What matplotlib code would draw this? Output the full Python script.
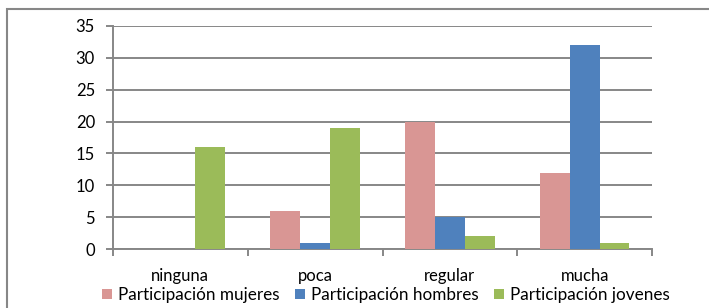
import numpy as np
import matplotlib.pyplot as plt
from matplotlib.patches import Rectangle

categories = ["ninguna", "poca", "regular", "mucha"]
mujeres = [0, 6, 20, 12]
hombres = [0, 1, 5, 32]
jovenes = [16, 19, 2, 1]
series_names = ["Participación mujeres", "Participación hombres", "Participación jovenes"]
colors = ["#D99694", "#4F81BD", "#9BBB59"]

plt.rcParams['font.family'] = ['Lato', 'DejaVu Sans']
grid_color = "#878787"

fig = plt.figure(figsize=(7.09, 3.08), dpi=100)
ax = fig.add_axes([113 / 709, 1 - 249 / 308, 539 / 709, 223 / 308])

x = np.arange(len(categories))
w = 0.222
for i, (vals, name, c) in enumerate(zip([mujeres, hombres, jovenes], series_names, colors)):
    ax.bar(x + (i - 1) * w, vals, width=w, color=c, label=name, zorder=3)

ax.set_xlim(-0.5, 3.5)
ax.set_ylim(0, 35)
ax.set_yticks(range(0, 36, 5))
ax.yaxis.grid(True, color=grid_color, linewidth=1.4, zorder=0)
ax.set_xticks(np.arange(-0.5, 4, 1))
ax.set_xticklabels([])
ax.set_xticks(x, minor=True)
ax.set_xticklabels(categories, minor=True)
ax.tick_params(axis='x', which='minor', length=0, pad=14, labelsize=12)
ax.tick_params(axis='x', which='major', length=5, color=grid_color, width=1.4)
ax.tick_params(axis='y', length=5, color=grid_color, width=1.4, labelsize=12, pad=8)

for s in ["top", "right"]:
    ax.spines[s].set_visible(False)
for s in ["left", "bottom"]:
    ax.spines[s].set_color(grid_color)
    ax.spines[s].set_linewidth(1.4)

fig.legend(loc="center", bbox_to_anchor=(386 / 709, 1 - 295 / 308), ncol=3,
           frameon=False, fontsize=12.3, handlelength=0.6, handleheight=0.6,
           handletextpad=0.35, columnspacing=0.9, borderpad=0)

fig.patches.append(Rectangle((7 / 709, -0.05), 1.0, 1 - 9 / 308 + 0.05,
                             transform=fig.transFigure, fill=False,
                             edgecolor=grid_color, linewidth=1.5))

fig.savefig("out.png", dpi=100)
